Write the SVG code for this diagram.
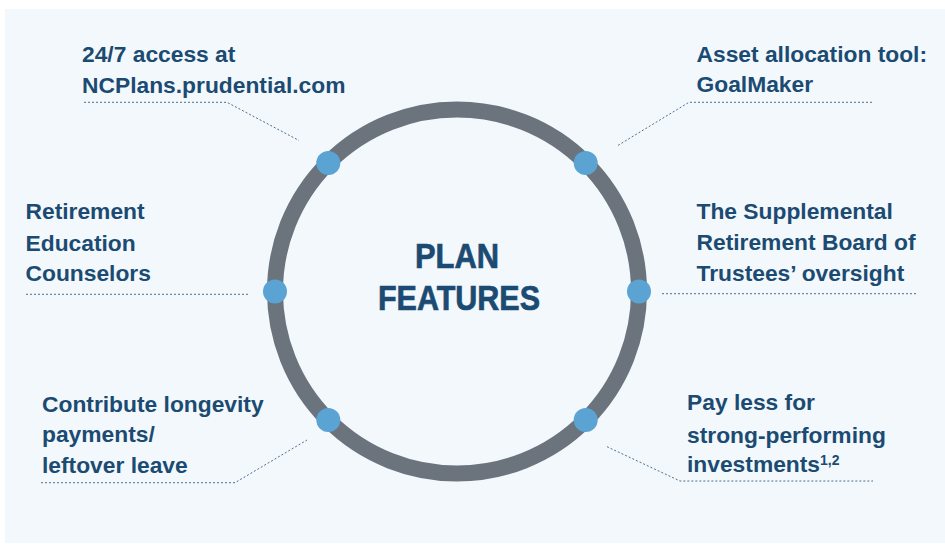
<svg xmlns="http://www.w3.org/2000/svg" width="945" height="544" viewBox="0 0 945 544">
  <style>
    .label { font-family: "Liberation Sans", Arial, sans-serif; font-weight: bold; font-size: 22.8px; fill: #1b4b72; }
    .title { font-family: "Liberation Sans", Arial, sans-serif; font-weight: bold; font-size: 35px; fill: #1b4b72; stroke: #1b4b72; stroke-width: 0.7; text-anchor: middle; }
    .lead { fill: none; stroke: #4d6f8e; stroke-width: 1; stroke-dasharray: 2 2; }
    .dot { fill: #5aa3d3; }
  </style>

  <!-- panel -->
  <rect x="0" y="0" width="945" height="544" fill="#ffffff"/>
  <rect x="5" y="9" width="940" height="534" fill="#f3f8fc"/>

  <!-- ring -->
  <circle cx="457" cy="291.5" r="182" fill="none" stroke="#6b737d" stroke-width="16"/>

  <g id="center-title">
    <text class="title" x="457" y="268" textLength="84" lengthAdjust="spacingAndGlyphs">PLAN</text>
    <text class="title" x="459" y="310" textLength="162" lengthAdjust="spacingAndGlyphs">FEATURES</text>
  </g>

  <!-- leader lines -->
  <g id="connectors">
    <polyline class="lead" points="84,102.3 227,102.3 299,140.5"/>
    <polyline class="lead" points="872,102.3 689,102.3 617,146"/>
    <polyline class="lead" points="26,294.3 250,294.3"/>
    <polyline class="lead" points="662,293.7 917,293.7"/>
    <polyline class="lead" points="41,482.7 235,482.7 307,440"/>
    <polyline class="lead" points="607,446.7 680,481 873,481"/>
  </g>

  <g id="feature-online-access">
    <circle class="dot" cx="328.3" cy="163" r="12"/>
    <text class="label" x="82" y="62">24/7 access at</text>
    <text class="label" x="82" y="92.5">NCPlans.prudential.com</text>
  </g>

  <g id="feature-goalmaker">
    <circle class="dot" cx="585.7" cy="163" r="12"/>
    <text class="label" x="696.5" y="61.7">Asset allocation tool:</text>
    <text class="label" x="696.5" y="92.3">GoalMaker</text>
  </g>

  <g id="feature-counselors">
    <circle class="dot" cx="275" cy="291.5" r="12"/>
    <text class="label" x="25.5" y="219.3">Retirement</text>
    <text class="label" x="25.5" y="250.5">Education</text>
    <text class="label" x="25.5" y="281">Counselors</text>
  </g>

  <g id="feature-board-oversight">
    <circle class="dot" cx="639" cy="291.5" r="12"/>
    <text class="label" x="696.5" y="219.3">The Supplemental</text>
    <text class="label" x="696.5" y="250.3">Retirement Board of</text>
    <text class="label" x="696.5" y="281">Trustees’ oversight</text>
  </g>

  <g id="feature-longevity">
    <circle class="dot" cx="328.3" cy="420" r="12"/>
    <text class="label" x="42" y="411.7">Contribute longevity</text>
    <text class="label" x="42" y="442">payments/</text>
    <text class="label" x="42" y="473.3">leftover leave</text>
  </g>

  <g id="feature-low-fees">
    <circle class="dot" cx="585.7" cy="420" r="12"/>
    <text class="label" x="687" y="410">Pay less for</text>
    <text class="label" x="687" y="442.5">strong-performing</text>
    <text class="label" x="687" y="471.7">investments<tspan font-size="14" dy="-7">1,2</tspan></text>
  </g>
</svg>
